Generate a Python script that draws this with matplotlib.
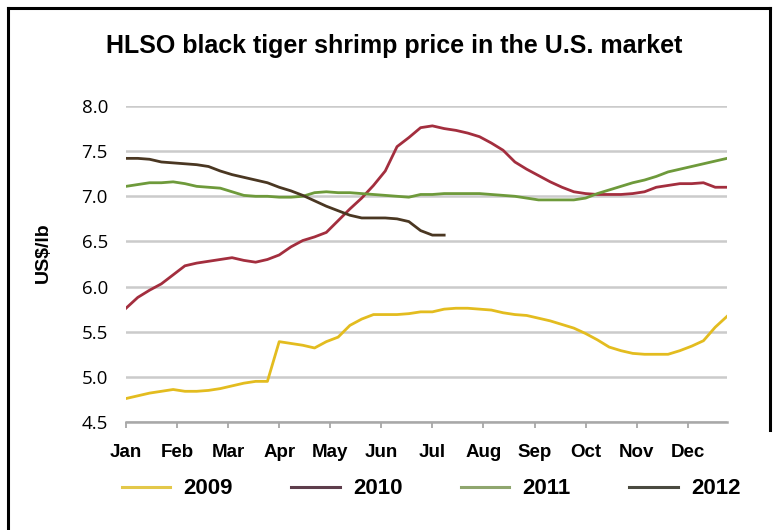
import numpy as np
import matplotlib.pyplot as plt
from matplotlib.lines import Line2D

# weekly prices, US$/lb
p2009 = [4.76, 4.79, 4.82, 4.84, 4.86, 4.84, 4.84, 4.85, 4.87, 4.90,
         4.93, 4.95, 4.95, 5.39, 5.37, 5.35, 5.32, 5.39, 5.44, 5.57,
         5.64, 5.69, 5.69, 5.69, 5.70, 5.72, 5.72, 5.75, 5.76, 5.76,
         5.75, 5.74, 5.71, 5.69, 5.68, 5.65, 5.62, 5.58, 5.54, 5.48,
         5.41, 5.33, 5.29, 5.26, 5.25, 5.25, 5.25, 5.29, 5.34, 5.40,
         5.55, 5.67]
p2010 = [5.76, 5.88, 5.96, 6.03, 6.13, 6.23, 6.26, 6.28, 6.30, 6.32,
         6.29, 6.27, 6.30, 6.35, 6.44, 6.51, 6.55, 6.60, 6.73, 6.86,
         6.98, 7.12, 7.28, 7.55, 7.65, 7.76, 7.78, 7.75, 7.73, 7.70,
         7.66, 7.59, 7.51, 7.38, 7.30, 7.23, 7.16, 7.10, 7.05, 7.03,
         7.02, 7.02, 7.02, 7.03, 7.05, 7.10, 7.12, 7.14, 7.14, 7.15,
         7.10, 7.10]
p2011 = [7.11, 7.13, 7.15, 7.15, 7.16, 7.14, 7.11, 7.10, 7.09, 7.05,
         7.01, 7.00, 7.00, 6.99, 6.99, 7.00, 7.04, 7.05, 7.04, 7.04,
         7.03, 7.02, 7.01, 7.00, 6.99, 7.02, 7.02, 7.03, 7.03, 7.03,
         7.03, 7.02, 7.01, 7.00, 6.98, 6.96, 6.96, 6.96, 6.96, 6.98,
         7.03, 7.07, 7.11, 7.15, 7.18, 7.22, 7.27, 7.30, 7.33, 7.36,
         7.39, 7.42]
p2012 = [7.42, 7.42, 7.41, 7.38, 7.37, 7.36, 7.35, 7.33, 7.28, 7.24,
         7.21, 7.18, 7.15, 7.10, 7.06, 7.01, 6.95, 6.89, 6.84, 6.79,
         6.76, 6.76, 6.76, 6.75, 6.72, 6.62, 6.57, 6.57]

months = ['Jan', 'Feb', 'Mar', 'Apr', 'May', 'Jun',
          'Jul', 'Aug', 'Sep', 'Oct', 'Nov', 'Dec']
years = ['2009', '2010', '2011', '2012']
colors = ['#E3BC1F', '#A32E3E', '#6E9A3B', '#4A3722']
legend_colors = ['#E3C84A', '#5E3E4C', '#8FA66E', '#4A4A40']

bold = ['Liberation Sans', 'DejaVu Sans']

fig = plt.figure(figsize=(7.78, 5.30), dpi=100)
ax = fig.add_axes([126/778, 1-422/530, (727-126)/778, (422-106)/530])

for vals, c in zip([p2009, p2010, p2011, p2012], colors):
    ax.plot(np.arange(len(vals)), vals, color=c, lw=2.0, solid_joinstyle='round')

ax.set_xlim(0, 51)
ax.set_ylim(4.5, 8.0)
ax.set_yticks(np.arange(4.5, 8.01, 0.5))
ax.set_yticklabels(['%.1f' % v for v in np.arange(4.5, 8.01, 0.5)],
                   fontsize=13.5, family=['Open Sans', 'DejaVu Sans'])
ax.set_xticks([m*52/12 for m in range(12)])
ax.set_xticklabels(months, fontsize=13.5, fontweight='bold', family=bold)
ax.tick_params(axis='y', length=0, pad=13)
ax.tick_params(axis='x', length=4, width=1.2, color='#A0A0A0', pad=12)
ax.yaxis.grid(True, color='#CBCBCB', lw=1.8)
ax.set_axisbelow(True)
for s in ['left', 'right', 'top']:
    ax.spines[s].set_visible(False)
ax.spines['bottom'].set_color('#A8A8A8')
ax.spines['bottom'].set_linewidth(1.8)

fig.text(43/778, 1-253/530, 'US$/lb', rotation=90, ha='center', va='center',
         fontsize=14, fontweight='bold', family=bold)
fig.text(394/778, 1-53/530, 'HLSO black tiger shrimp price in the U.S. market',
         ha='center', va='baseline', fontsize=18, fontweight='bold', family=bold)

handles = [Line2D([], [], color=c, lw=2.2) for c in legend_colors]
fig.legend(handles, years, loc='center', bbox_to_anchor=(431/778, 1-489/530),
           ncol=4, frameon=False, handlelength=2.2, handletextpad=0.6,
           columnspacing=2.6, prop={'size': 16, 'weight': 'bold', 'family': bold})

# outer frame
frame = dict(color='black', lw=2.2, transform=fig.transFigure)
fig.add_artist(Line2D([8/778, 8/778], [0, 1-8/530], **frame))
fig.add_artist(Line2D([8/778, 770/778], [1-8/530, 1-8/530], **frame))
fig.add_artist(Line2D([770/778, 770/778], [1-8/530, 1-430/530], **frame))

fig.savefig('out.png', dpi=100)
